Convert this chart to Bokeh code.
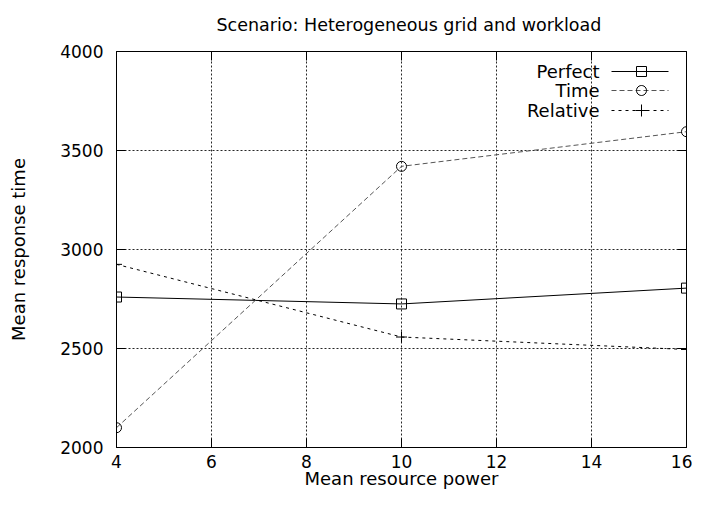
import math
from bokeh.plotting import figure
from bokeh.models import (Range1d, LinearAxis, FixedTicker, Label, Arrow,
                          BoxAnnotation, PolyAnnotation, CustomJSTickFormatter)
from bokeh.embed import file_html
from bokeh.resources import INLINE

# ---------------- data ----------------
x_power = [4, 10, 16]
perfect = [2760, 2725, 2805]
time_based = [2100, 3420, 3595]
relative = [2925, 2558, 2495]
x_ticks = [4, 6, 8, 10, 12, 14, 16]
y_ticks = [2000, 2500, 3000, 3500, 4000]
series_names = ["Perfect", "Time", "Relative"]
title_text = "Scenario: Heterogeneous grid and workload"
x_label = "Mean resource power"
y_label = "Mean response time"

# ---------------- styles ----------------
FONT = "DejaVu Sans"
TIME_COLOR = "#555555"
PERF_DASH = "solid"
TIME_DASH = "5 3"
REL_DASH = "3 4"

p = figure(width=692, height=492, output_backend="svg", toolbar_location=None,
           x_range=Range1d(4, 16), y_range=Range1d(2000, 4000),
           min_border_left=116, min_border_right=6, min_border_top=50,
           min_border_bottom=45, title=title_text)
p.title.align = "left"
p.title.offset = 100
p.title.vertical_align = "top"
p.title.text_font = FONT
p.title.text_font_size = "17.5px"
p.title.text_font_style = "normal"
p.title.text_color = "black"
p.title.standoff = 29
p.outline_line_color = "black"
p.outline_line_alpha = 1
p.outline_line_width = 1
p.background_fill_color = "white"
p.border_fill_color = "white"

def style_axis(ax, ticks):
    ax.ticker = FixedTicker(ticks=ticks)
    ax.major_tick_in = 9
    ax.major_tick_out = 0
    ax.major_tick_line_color = "black"
    ax.minor_tick_line_color = None
    ax.axis_line_color = "black"
    ax.major_label_text_font = FONT
    ax.major_label_text_font_size = "17px"
    ax.major_label_text_color = "black"
    ax.major_label_text_line_height = 1.0
    ax.axis_label_text_font = FONT
    ax.axis_label_text_font_size = "18px"
    ax.axis_label_text_font_style = "normal"
    ax.axis_label_text_color = "black"
    ax.axis_label_text_line_height = 1.0

xa = p.xaxis[0]
ya = p.yaxis[0]
style_axis(xa, x_ticks)
style_axis(ya, y_ticks)
xa.axis_label = x_label
ya.axis_label = y_label
xa.major_label_standoff = 7
ya.major_label_standoff = 13
xa.axis_label_standoff = -3
ya.axis_label_standoff = 28

# mirrored ticks (top / right), no labels
blank = CustomJSTickFormatter(code="return ''")
top = LinearAxis(formatter=blank)
right = LinearAxis(formatter=blank)
style_axis(top, x_ticks)
style_axis(right, y_ticks)
for ax in (top, right):
    ax.major_label_standoff = 0
    ax.axis_line_color = None
p.add_layout(top, "above")
p.add_layout(right, "right")

p.xgrid.ticker = FixedTicker(ticks=x_ticks)
p.ygrid.ticker = FixedTicker(ticks=y_ticks)
for g in (p.xgrid, p.ygrid):
    g.grid_line_color = "black"
    g.grid_line_dash = "2 2"
    g.grid_line_width = 1
    g.grid_line_alpha = 0.85

# ---------------- series ----------------
p.line(x_power, perfect, line_color="black", line_width=1)
p.scatter(x_power, perfect, marker="square", size=10, fill_color=None,
          line_color="black", line_width=1)
p.line(x_power, time_based, line_color=TIME_COLOR, line_width=1, line_dash=TIME_DASH)
p.scatter(x_power, time_based, marker="circle", size=10, fill_color=None,
          line_color="black", line_width=1)
p.line(x_power, relative, line_color="black", line_width=1, line_dash=REL_DASH)
p.scatter(x_power, relative, marker="cross", size=11, line_color="black", line_width=1)

# ---------------- legend (gnuplot style: text, then sample) ----------------
LEG_TEXT_X = 483
LEG_ROWS = [376, 357, 337]
LEG_L0, LEG_L1, LEG_M = 495, 552, 525
MK = 5
leg_styles = [("black", PERF_DASH), (TIME_COLOR, TIME_DASH), ("black", REL_DASH)]

for name, row, (col, dash) in zip(series_names, LEG_ROWS, leg_styles):
    p.add_layout(Label(x=LEG_TEXT_X, y=row, x_units="screen", y_units="screen",
                       text=name, text_align="right", text_baseline="middle",
                       text_font=FONT, text_font_size="18px", text_color="black"))
    p.add_layout(Arrow(end=None, x_start=LEG_L0, y_start=row, x_end=LEG_L1, y_end=row,
                       start_units="screen", end_units="screen",
                       line_color=col, line_width=1, line_dash=dash))

r0, r1, r2 = LEG_ROWS
p.add_layout(BoxAnnotation(left=LEG_M - MK, right=LEG_M + MK, bottom=r0 - MK, top=r0 + MK,
                           left_units="screen", right_units="screen",
                           bottom_units="screen", top_units="screen",
                           fill_alpha=0, line_color="black", line_alpha=1, line_width=1))
angs = [2 * math.pi * k / 24 for k in range(24)]
p.add_layout(PolyAnnotation(xs=[LEG_M + MK * math.cos(a) for a in angs],
                            ys=[r1 + MK * math.sin(a) for a in angs],
                            xs_units="screen", ys_units="screen",
                            fill_alpha=0, line_color="black", line_alpha=1, line_width=1))
p.add_layout(Arrow(end=None, x_start=LEG_M - MK - 1, y_start=r2, x_end=LEG_M + MK + 1, y_end=r2,
                   start_units="screen", end_units="screen", line_color="black", line_width=1))
p.add_layout(Arrow(end=None, x_start=LEG_M, y_start=r2 - MK - 1, x_end=LEG_M, y_end=r2 + MK + 1,
                   start_units="screen", end_units="screen", line_color="black", line_width=1))

open("out.html", "w").write(file_html(p, INLINE))
